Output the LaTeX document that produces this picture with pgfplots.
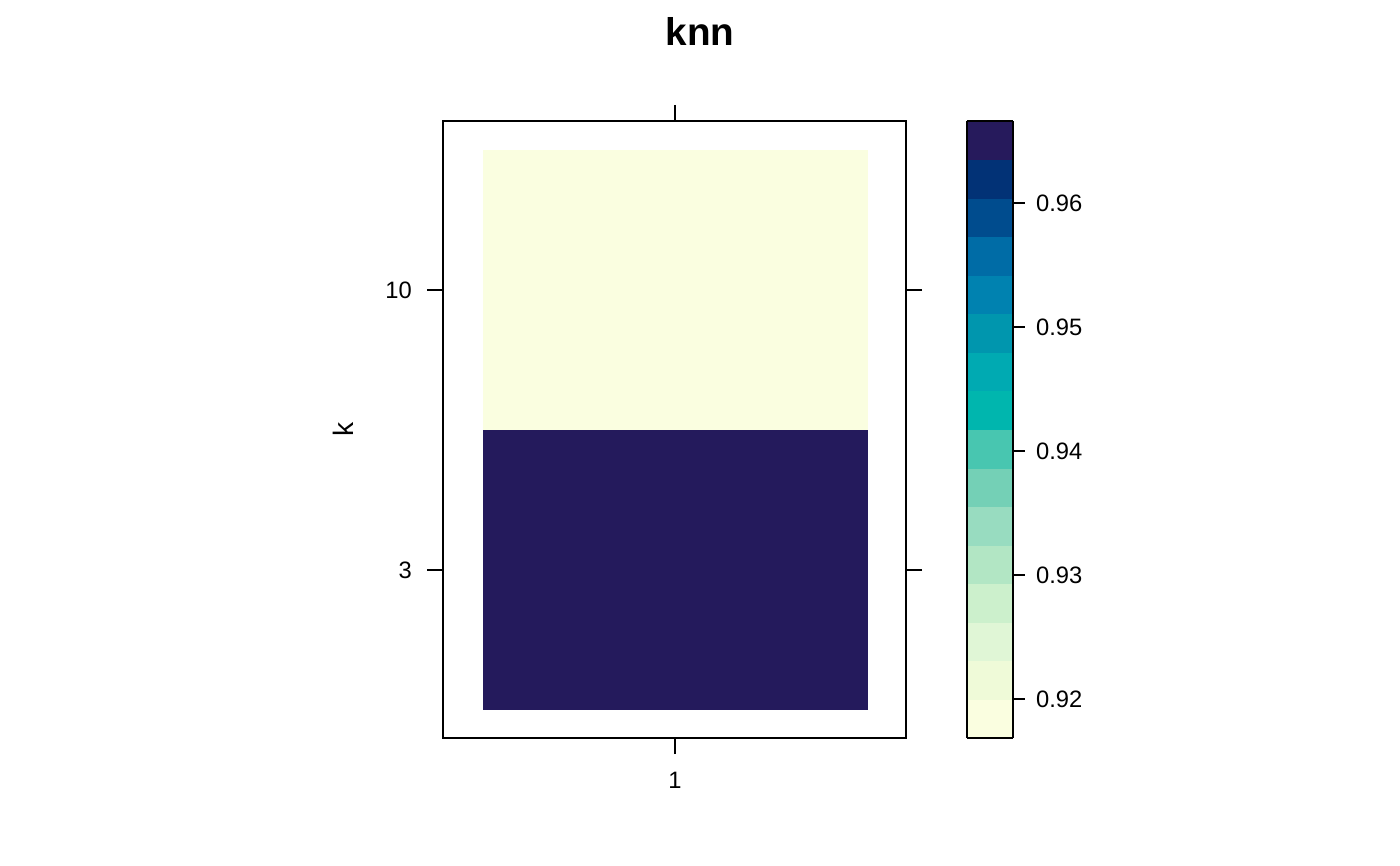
\documentclass[border=0pt]{standalone}
\usepackage{pgfplots}
\pgfplotsset{compat=1.18}
\usepackage{fontspec}
\setmainfont{Liberation Sans}
\definecolor{tileA}{RGB}{36,26,92}
\definecolor{tileB}{RGB}{250,254,224}
\begin{document}
\begin{tikzpicture}
\useasboundingbox (0,0) rectangle (28cm,17.32cm);
\begin{axis}[
  at={(8.86cm,2.56cm)}, anchor=south west,
  scale only axis, width=9.26cm, height=12.34cm,
  xmin=0.397, xmax=1.6, ymin=0.4, ymax=2.6036,
  xtick={1}, xticklabels={1},
  ytick={1,2}, yticklabels={3,10},
  tick align=outside, tick pos=both,
  major tick length=0.32cm,
  axis line style={line width=0.9pt},
  every tick/.style={line width=0.9pt, black},
  tick label style={font=\fontsize{13.5}{16}\selectfont},
  xticklabel style={yshift=-0.24cm},
  yticklabel style={xshift=-0.18cm},
  ylabel={k},
  ylabel style={font=\fontsize{16}{19}\selectfont, at={(axis description cs:-0.216,0.5)}, anchor=center},
  title={knn},
  title style={font=\fontsize{22}{26}\selectfont\bfseries, at={(axis description cs:0.555,1.128)}, anchor=center},
  colormap={knn}{rgb255=(250,254,224) rgb255=(239,250,216) rgb255=(224,246,214) rgb255=(204,240,204)
    rgb255=(178,230,196) rgb255=(152,220,192) rgb255=(116,208,182) rgb255=(72,198,176)
    rgb255=(0,182,174) rgb255=(0,170,178) rgb255=(0,150,174) rgb255=(0,130,176)
    rgb255=(0,108,166) rgb255=(0,76,142) rgb255=(2,50,118) rgb255=(38,26,92)},
  colormap access=piecewise constant,
  point meta min=0.91685, point meta max=0.96661,
  colorbar,
  colorbar style={
    at={(1.1317,0)}, anchor=south west,
    width=0.92cm, height=12.34cm,
    scale only axis,
    ytick={0.92,0.93,0.94,0.95,0.96},
    yticklabel style={font=\fontsize{13.5}{16}\selectfont, xshift=0.1cm,
      /pgf/number format/fixed, /pgf/number format/precision=2, /pgf/number format/fixed zerofill},
    /pgf/number format/assume math mode=true,
    tick align=outside, major tick length=0.24cm,
    axis line style={line width=0.9pt},
    every tick/.style={line width=0.9pt, black},
    yticklabel pos=right, ytick pos=right,
  },
]
\addplot[fill=tileA, draw=none] coordinates {(0.5,0.5) (1.5,0.5) (1.5,1.5) (0.5,1.5)} -- cycle;
\addplot[fill=tileB, draw=none] coordinates {(0.5,1.5) (1.5,1.5) (1.5,2.5) (0.5,2.5)} -- cycle;
\end{axis}
\end{tikzpicture}
\end{document}
